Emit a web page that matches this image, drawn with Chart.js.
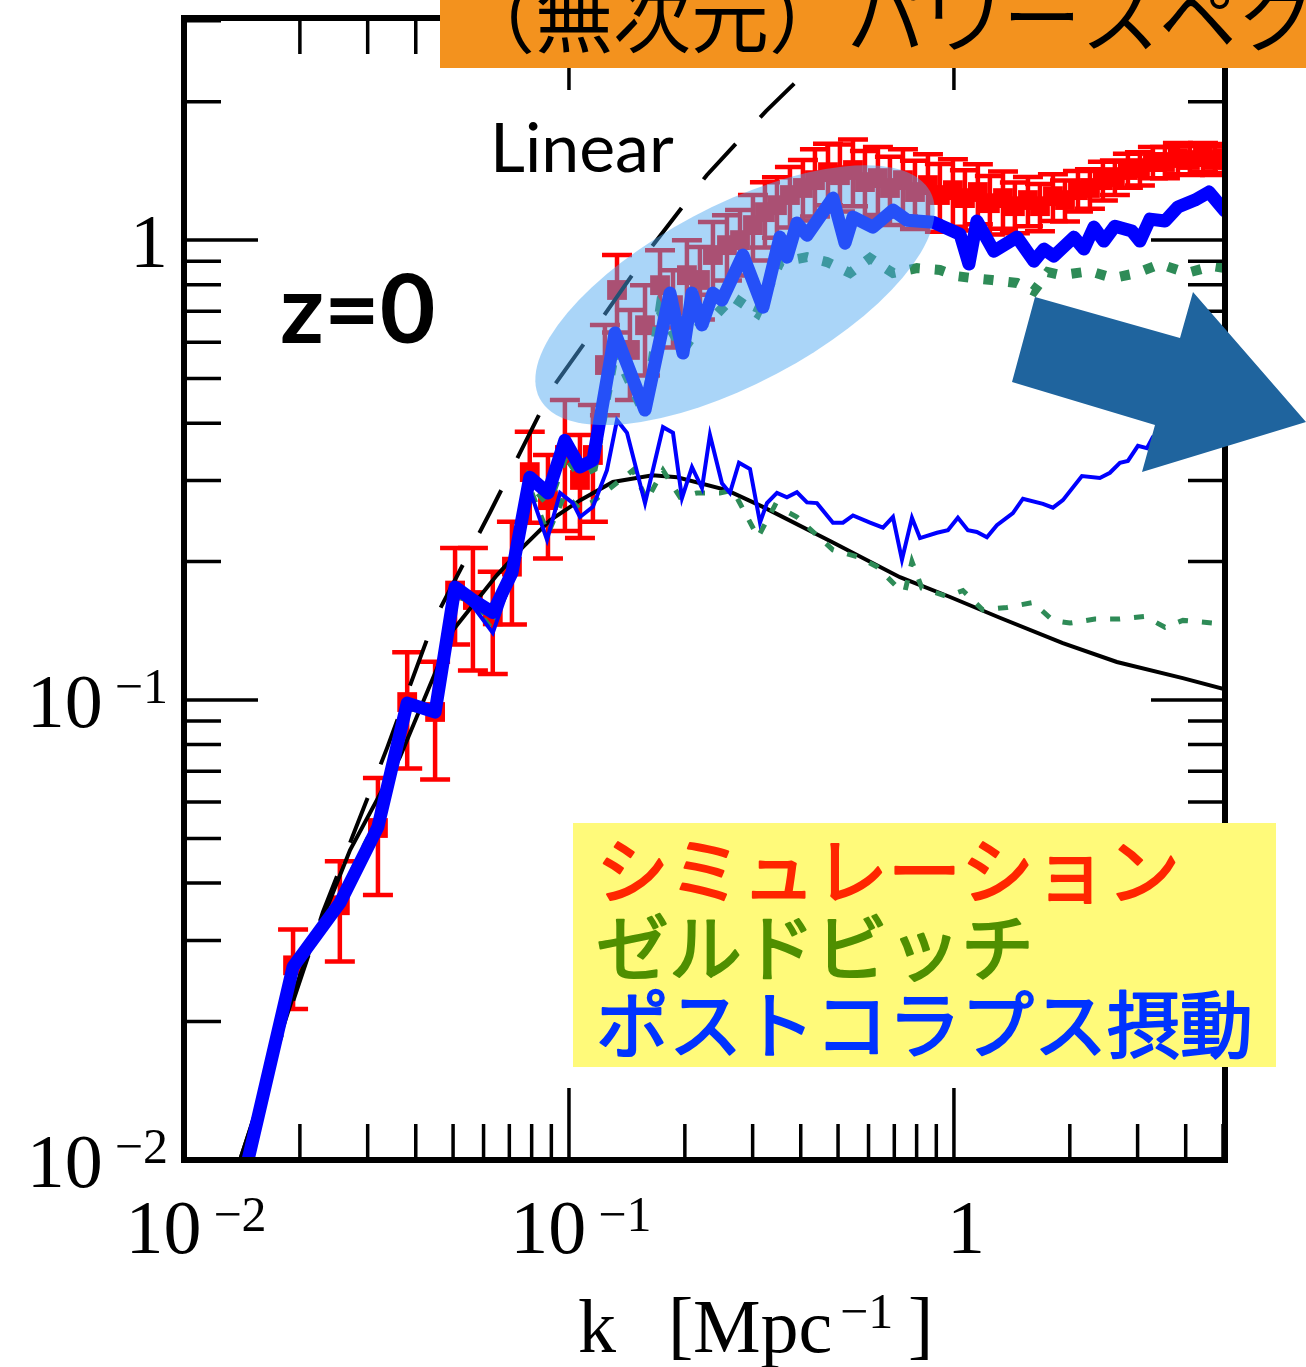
<!DOCTYPE html>
<html>
<head>
<meta charset="utf-8">
<script src="https://cdn.jsdelivr.net/npm/chart.js@4.4.1/dist/chart.umd.min.js"></script>
<style>
  html, body { margin: 0; padding: 0; background: #fff; }
  #wrap { width: 1306px; height: 1367px; }
</style>
</head>
<body>
<div id="wrap"><canvas id="pk" width="1306" height="1367"></canvas></div>
<script>
// Dimensionless power spectrum Delta^2(k) at z=0, k in Mpc^-1

// N-body simulation: points with 1-sigma errors
const simK = [0.0192, 0.0254, 0.0319, 0.0380, 0.0449, 0.0506, 0.0563, 0.0634, 0.0711, 0.0791,
  0.0882, 0.0976, 0.1068, 0.1154, 0.1240, 0.1333, 0.1440, 0.1576, 0.1724, 0.1863,
  0.2025, 0.2189, 0.2366, 0.2573, 0.2782, 0.3006, 0.3229, 0.3470, 0.3750, 0.4053,
  0.4355, 0.4708, 0.5057, 0.5467, 0.5873, 0.6347, 0.6820, 0.7372, 0.7921, 0.8561,
  0.9196, 0.9940, 1.068, 1.154, 1.240, 1.341, 1.440, 1.557, 1.673, 1.808,
  1.943, 2.100, 2.256, 2.438, 2.619, 2.831, 3.042, 3.288, 3.533, 3.818,
  4.102, 4.435, 4.764, 5.027];
const simP = [0.0265, 0.0358, 0.0527, 0.0990, 0.0942, 0.173, 0.165, 0.152, 0.195, 0.313,
  0.272, 0.341, 0.301, 0.341, 0.535, 0.779, 0.577, 0.653, 0.798, 0.722,
  0.839, 0.819, 0.928, 0.975, 1.000, 1.078, 1.150, 1.191, 1.253, 1.298,
  1.350, 1.405, 1.384, 1.420, 1.337, 1.364, 1.298, 1.350, 1.272, 1.317,
  1.253, 1.284, 1.234, 1.272, 1.203, 1.234, 1.185, 1.222, 1.185, 1.246,
  1.222, 1.284, 1.298, 1.350, 1.371, 1.420, 1.434, 1.478, 1.478, 1.508,
  1.493, 1.515, 1.493, 1.508];
const simErr = [0.0052, 0.0088, 0.015, 0.028, 0.027, 0.041, 0.049, 0.038, 0.049, 0.070,
  0.069, 0.108, 0.076, 0.097, 0.119, 0.149, 0.128, 0.145, 0.152, 0.138,
  0.160, 0.147, 0.167, 0.158, 0.162, 0.175, 0.186, 0.179, 0.188, 0.195,
  0.225, 0.215, 0.230, 0.235, 0.225, 0.230, 0.220, 0.225, 0.215, 0.220,
  0.210, 0.215, 0.185, 0.190, 0.175, 0.175, 0.150, 0.150, 0.140, 0.145,
  0.125, 0.130, 0.128, 0.130, 0.118, 0.120, 0.119, 0.115, 0.115, 0.118,
  0.108, 0.110, 0.108, 0.109];

// post-collapse perturbation theory (thick blue)
const pcpK = [0.0126, 0.0192, 0.0254, 0.0319, 0.0380, 0.0449, 0.0506, 0.0563, 0.0634, 0.0711,
  0.0791, 0.0882, 0.0976, 0.1068, 0.1154, 0.1317, 0.1576, 0.1830, 0.1978, 0.2087,
  0.2216, 0.2366, 0.2497, 0.2831, 0.3191, 0.3532, 0.3683, 0.3910, 0.4152, 0.4850,
  0.5213, 0.5468, 0.6160, 0.6944, 0.7550, 0.8821, 1.037, 1.094, 1.147, 1.270,
  1.458, 1.614, 1.713, 1.818, 2.050, 2.176, 2.310, 2.452, 2.619, 2.900,
  3.042, 3.229, 3.533, 3.818, 4.227, 4.596, 5.058];
const pcpP = [0.0058, 0.0263, 0.0362, 0.0530, 0.0985, 0.0941, 0.176, 0.165, 0.155, 0.189,
  0.305, 0.282, 0.367, 0.321, 0.332, 0.628, 0.427, 0.767, 0.568, 0.767,
  0.654, 0.767, 0.741, 0.928, 0.715, 1.015, 0.918, 1.089, 1.025, 1.234,
  0.985, 1.122, 1.067, 1.162, 1.105, 1.094, 1.030, 0.887, 1.100, 0.946,
  1.015, 0.900, 0.956, 0.923, 1.015, 0.956, 1.067, 0.995, 1.072, 1.046,
  0.995, 1.111, 1.100, 1.180, 1.222, 1.272, 1.156];

// thin blue curve
const thinK = [0.0126, 0.0192, 0.0254, 0.0319, 0.0380, 0.0449, 0.0506, 0.0563, 0.0634, 0.0711,
  0.0791, 0.0877, 0.0948, 0.1024, 0.1068, 0.1154, 0.1255, 0.1333, 0.1415, 0.1576,
  0.1755, 0.1863, 0.1966, 0.2087, 0.2216, 0.2324, 0.2497, 0.2619, 0.2765, 0.2953,
  0.3135, 0.3268, 0.3470, 0.3683, 0.3910, 0.4152, 0.4408, 0.4850, 0.5149, 0.5468,
  0.6053, 0.6542, 0.6944, 0.7328, 0.7780, 0.8162, 0.9034, 0.9647, 1.024, 1.087,
  1.147, 1.218, 1.293, 1.423, 1.511, 1.703, 1.808, 1.919, 2.150, 2.394,
  2.542, 2.699, 2.831, 3.006, 3.173, 3.288, 3.981, 5.058];
const thinP = [0.0058, 0.0262, 0.0360, 0.0530, 0.0980, 0.0930, 0.172, 0.160, 0.140, 0.185,
  0.286, 0.223, 0.282, 0.268, 0.250, 0.263, 0.316, 0.406, 0.381, 0.268,
  0.392, 0.381, 0.275, 0.321, 0.289, 0.377, 0.296, 0.282, 0.328, 0.318,
  0.243, 0.268, 0.282, 0.276, 0.283, 0.269, 0.268, 0.243, 0.243, 0.252,
  0.243, 0.237, 0.250, 0.202, 0.249, 0.225, 0.231, 0.234, 0.249, 0.234,
  0.232, 0.226, 0.240, 0.255, 0.274, 0.267, 0.262, 0.272, 0.307, 0.304,
  0.312, 0.328, 0.331, 0.357, 0.353, 0.373, 0.406, 0.460];

// Zel'dovich, thick dots
const zelUK = [0.0126, 0.0192, 0.0254, 0.0319, 0.0380, 0.0449, 0.0506, 0.0563, 0.0634, 0.0711,
  0.0791, 0.0882, 0.0976, 0.1068, 0.1154, 0.1317, 0.1576, 0.1724, 0.1978, 0.2189,
  0.2366, 0.2667, 0.3078, 0.3532, 0.4152, 0.4679, 0.5370, 0.6053, 0.6944, 0.8016,
  0.9196, 1.018, 1.114, 1.255, 1.458, 1.614, 1.755, 1.897, 2.256, 2.588,
  2.988, 3.428, 4.029, 4.679, 5.058];
const zelUP = [0.0058, 0.0262, 0.0365, 0.0540, 0.0970, 0.0950, 0.173, 0.163, 0.152, 0.188,
  0.300, 0.270, 0.345, 0.310, 0.320, 0.577, 0.417, 0.704, 0.577, 0.653,
  0.677, 0.752, 0.694, 0.896, 0.918, 0.896, 0.848, 0.914, 0.848, 0.869,
  0.861, 0.835, 0.827, 0.819, 0.807, 0.775, 0.852, 0.839, 0.856, 0.827,
  0.848, 0.887, 0.848, 0.878, 0.869];

// Zel'dovich, thin dots
const zelLK = [0.0126, 0.0192, 0.0254, 0.0319, 0.0380, 0.0449, 0.0506, 0.0563, 0.0634, 0.0711,
  0.0791, 0.0882, 0.0976, 0.1068, 0.1154, 0.1466, 0.1595, 0.1755, 0.1943, 0.2150,
  0.2467, 0.2667, 0.3097, 0.3428, 0.3910, 0.4850, 0.5600, 0.6310, 0.7029, 0.7459,
  0.7780, 0.8260, 0.9590, 1.055, 1.189, 1.373, 1.604, 1.808, 2.001, 2.324,
  2.699, 3.135, 3.533, 3.934, 4.707, 5.058];
const zelLP = [0.0058, 0.0262, 0.0360, 0.0530, 0.0975, 0.0935, 0.172, 0.161, 0.142, 0.186,
  0.290, 0.230, 0.280, 0.260, 0.270, 0.316, 0.272, 0.316, 0.276, 0.282,
  0.282, 0.286, 0.226, 0.265, 0.250, 0.212, 0.205, 0.195, 0.178, 0.172,
  0.200, 0.175, 0.168, 0.173, 0.157, 0.159, 0.163, 0.149, 0.147, 0.150,
  0.150, 0.152, 0.144, 0.149, 0.147, 0.148];

// solid black curve
const nlK = [0.01398, 0.0200, 0.0270, 0.0364, 0.0500, 0.0650, 0.0759, 0.0893, 0.107, 0.130,
  0.165, 0.191, 0.257, 0.319, 0.485, 0.724, 0.977, 1.316, 1.918, 2.65, 3.93, 5.06];
const nlP = [0.0100, 0.0252, 0.0472, 0.0752, 0.142, 0.187, 0.215, 0.246, 0.272, 0.298,
  0.308, 0.305, 0.286, 0.263, 0.220, 0.185, 0.1675, 0.151, 0.133, 0.121, 0.1116, 0.1055];

// linear theory (dashed)
const linK = [0.01398, 0.02296, 0.0278, 0.0337, 0.0446, 0.0624, 0.0909, 0.1225, 0.1652, 0.228, 0.325, 0.4227, 0.55];
const linP = [0.0100, 0.0346, 0.0521, 0.0787, 0.149, 0.256, 0.479, 0.680, 0.975, 1.384, 1.907, 2.365, 3.04];

// axes
const xMajor = [0.01, 0.1, 1];
const xMinor = [0.02, 0.03, 0.04, 0.05, 0.06, 0.07, 0.08, 0.09, 0.2, 0.3, 0.4, 0.5, 0.6, 0.7, 0.8, 0.9, 2, 3, 4, 5];
const yMajor = [0.01, 0.1, 1];
const yMinor = [0.02, 0.03, 0.04, 0.05, 0.06, 0.07, 0.08, 0.09, 0.2, 0.3, 0.4, 0.5, 0.6, 0.7, 0.8, 0.9, 2, 3];
const xLabels = [['10', '\u22122'], ['10', '\u22121'], ['1', '']];
const yLabels = [['10', '\u22122'], ['10', '\u22121'], ['1', '']];

const legendLines = [
  ['シミュレーション', 'rgb(255,38,0)'],
  ['ゼルドビッチ', 'rgb(79,143,0)'],
  ['ポストコラプス摂動', 'rgb(0,51,255)']
];
const bannerText = '（無次元）パワースペクトル';

const pts = (ks, ps) => ks.map((k, i) => ({ x: k, y: ps[i] }));

const serif = '"Liberation Serif", "DejaVu Serif", serif';
const jp = '"Noto Sans CJK JP", "Noto Sans", sans-serif';

// 10^n style label; anchor 'right' or 'center'
function powLabel(ctx, base, exp, x, y, anchor, rise) {
  ctx.font = '76px ' + serif;
  const wb = ctx.measureText(base).width;
  ctx.font = '50px ' + serif;
  const we = exp ? ctx.measureText(exp).width + 12 : 0;
  const w = wb + we;
  const x0 = anchor === 'right' ? x - w : x - w / 2;
  ctx.textAlign = 'left';
  ctx.textBaseline = 'alphabetic';
  ctx.font = '76px ' + serif;
  ctx.fillText(base, x0, y);
  if (exp) {
    ctx.font = '50px ' + serif;
    ctx.fillText(exp, x0 + wb + 12, y - rise);
  }
}

const decor = {
  id: 'decor',
  beforeDatasetsDraw(chart) {
    const { ctx, chartArea: a, scales: { x, y } } = chart;
    ctx.save();
    ctx.beginPath();
    ctx.rect(a.left, a.top, a.right - a.left, a.bottom - a.top);
    ctx.clip();
    ctx.strokeStyle = '#ff0000';
    ctx.lineWidth = 4.5;
    simK.forEach((k, i) => {
      const px = x.getPixelForValue(k);
      const lo = y.getPixelForValue(Math.max(simP[i] - simErr[i], 1e-3));
      const hi = y.getPixelForValue(simP[i] + simErr[i]);
      ctx.beginPath();
      ctx.moveTo(px, lo); ctx.lineTo(px, hi);
      ctx.moveTo(px - 15, lo); ctx.lineTo(px + 15, lo);
      ctx.moveTo(px - 15, hi); ctx.lineTo(px + 15, hi);
      ctx.stroke();
    });
    ctx.restore();
  },
  afterDatasetsDraw(chart) {
    const { ctx, chartArea: a, scales: { x, y } } = chart;
    ctx.save();

    // highlighted region
    ctx.fillStyle = 'rgba(77,167,240,0.48)';
    ctx.beginPath();
    ctx.ellipse(x.getPixelForValue(0.270), y.getPixelForValue(0.759), 221, 89, -27.9 * Math.PI / 180, 0, Math.PI * 2);
    ctx.fill();

    // frame and inward ticks
    ctx.strokeStyle = '#000';
    ctx.lineWidth = 6;
    ctx.strokeRect(a.left, a.top, a.right - a.left, a.bottom - a.top);
    ctx.lineWidth = 3.5;
    const seg = (x1, y1, x2, y2) => { ctx.beginPath(); ctx.moveTo(x1, y1); ctx.lineTo(x2, y2); ctx.stroke(); };
    xMajor.map(v => [v, 72]).concat(xMinor.map(v => [v, 36])).forEach(([v, len]) => {
      const p = x.getPixelForValue(v);
      seg(p, a.bottom, p, a.bottom - len);
      seg(p, a.top, p, a.top + len);
    });
    yMajor.map(v => [v, 74]).concat(yMinor.map(v => [v, 37])).forEach(([v, len]) => {
      const p = y.getPixelForValue(v);
      seg(a.left, p, a.left + len, p);
      seg(a.right, p, a.right - len, p);
    });

    // tick labels
    ctx.fillStyle = '#000';
    xMajor.forEach((v, i) => powLabel(ctx, xLabels[i][0], xLabels[i][1], x.getPixelForValue(v) + 12, 1253, 'center', 22));
    yMajor.forEach((v, i) => powLabel(ctx, yLabels[i][0], yLabels[i][1], 168, y.getPixelForValue(v) + 27, 'right', 24));

    // axis title
    ctx.textAlign = 'left';
    ctx.font = '76px ' + serif;
    ctx.fillText('k', 578, 1352);
    ctx.fillText('[', 668, 1350);
    ctx.fillText('Mpc', 693, 1352);
    ctx.fillText(']', 908, 1350);
    ctx.font = '50px ' + serif;
    ctx.fillText('\u22121', 840, 1328);

    // annotations
    ctx.font = '68px Lato, "Open Sans", sans-serif';
    ctx.fillText('Linear', 490, 172);
    ctx.font = 'bold 96px Lato, "Open Sans", sans-serif';
    ctx.fillText('z=0', 280, 343);

    // legend box
    ctx.fillStyle = 'rgb(255,250,122)';
    ctx.fillRect(573, 823, 703, 244);
    ctx.font = '73px ' + jp;
    ctx.lineWidth = 2;
    ctx.lineJoin = 'round';
    legendLines.forEach(([t, c], i) => {
      ctx.fillStyle = c;
      ctx.strokeStyle = c;
      ctx.fillText(t, 596, 898 + i * 77);
      ctx.strokeText(t, 596, 898 + i * 77);
    });

    // arrow
    ctx.fillStyle = 'rgb(31,100,158)';
    ctx.beginPath();
    [[1035, 297], [1180, 338], [1193, 292], [1306, 422], [1142, 472], [1155, 425], [1012, 382]]
      .forEach(([px, py], i) => i ? ctx.lineTo(px, py) : ctx.moveTo(px, py));
    ctx.closePath();
    ctx.fill();

    // title banner
    ctx.fillStyle = 'rgb(243,146,30)';
    ctx.fillRect(440, 0, 866, 68);
    ctx.fillStyle = '#000';
    ctx.font = '78px ' + jp;
    ctx.fillText(bannerText, 457, 47);

    ctx.restore();
  }
};

new Chart(document.getElementById('pk'), {
  type: 'line',
  data: {
    datasets: [
      { type: 'scatter', data: pts(simK, simP), order: 7, pointStyle: 'rect', pointRadius: 14,
        backgroundColor: '#ff0000', borderWidth: 0, showLine: false, clip: 0 },
      { data: pts(linK, linP), order: 6, borderColor: '#000', borderWidth: 4, borderDash: [48, 36],
        pointRadius: 0, fill: false, clip: 0 },
      { data: pts(nlK, nlP), order: 5, borderColor: '#000', borderWidth: 4, pointRadius: 0, fill: false, clip: 0 },
      { data: pts(zelLK, zelLP), order: 4, borderColor: 'rgb(46,139,87)', borderWidth: 5, borderDash: [10, 14],
        pointRadius: 0, fill: false, clip: 0 },
      { data: pts(zelUK, zelUP), order: 3, borderColor: 'rgb(46,139,87)', borderWidth: 10, borderDash: [10, 15],
        pointRadius: 0, fill: false, clip: 0 },
      { data: pts(thinK, thinP), order: 2, borderColor: '#0000ff', borderWidth: 4, pointRadius: 0, fill: false, clip: 0 },
      { data: pts(pcpK, pcpP), order: 1, borderColor: '#0000ff', borderWidth: 13, borderJoinStyle: 'round',
        borderCapStyle: 'round', pointRadius: 0, fill: false, clip: 0 }
    ]
  },
  options: {
    responsive: false,
    animation: false,
    devicePixelRatio: 1,
    layout: { padding: { left: 184, right: 81, top: 18, bottom: 207 } },
    scales: {
      x: { type: 'logarithmic', min: 0.01, max: 5.06, display: false },
      y: { type: 'logarithmic', min: 0.01, max: 3.04, display: false }
    },
    plugins: { legend: { display: false }, tooltip: { enabled: false } }
  },
  plugins: [decor]
});
</script>
</body>
</html>
